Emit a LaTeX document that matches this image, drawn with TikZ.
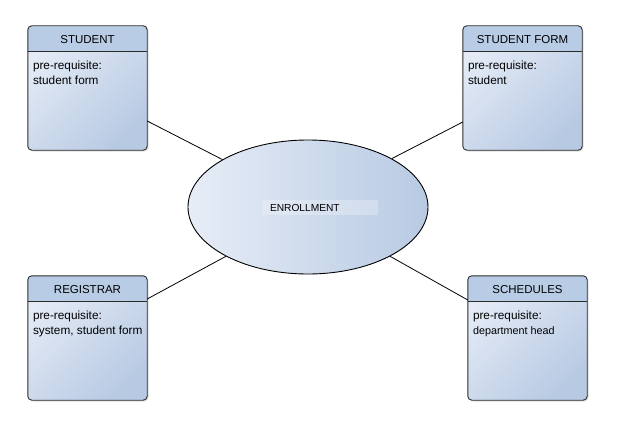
\documentclass[tikz,border=0pt]{standalone}
\usepackage{fontspec}
\setmainfont{Liberation Sans}
\usetikzlibrary{shapes.geometric,shadows}

\definecolor{boxlight}{HTML}{E4EBF6}
\definecolor{boxdark}{HTML}{B8CAE3}
\definecolor{hdrblue}{HTML}{B9CCE5}
\definecolor{edgegray}{HTML}{2B2B2B}

\tikzset{
  entity/.style={rectangle, rounded corners=4pt, minimum width=119pt, minimum height=124pt,
    inner sep=0pt, top color=boxlight, bottom color=boxdark, shading angle=45,
    drop shadow={shadow xshift=1.5pt, shadow yshift=-1.5pt, opacity=0.25}},
  entline/.style={draw=edgegray, line width=0.9pt},
  title/.style={font=\fontsize{11.5}{13}\selectfont, inner sep=0pt},
  body/.style={font=\fontsize{11.8}{15}\selectfont, align=left, inner sep=0pt},
  link/.style={draw=black, line width=0.8pt}
}

% box with a title bar and a note below it
\newcommand{\entitybox}[4]{%
  \node[entity] (#1) at (#2) {};
  \begin{scope}
    \clip[rounded corners=4pt] (#1.north west) rectangle (#1.south east);
    \fill[hdrblue] (#1.north west) rectangle ([yshift=-26pt]#1.north east);
  \end{scope}
  \node[title] (#1-t) at ([yshift=-14pt]#1.north) {#3};
  \draw[entline] ([yshift=-26pt]#1.north west) -- ([yshift=-26pt]#1.north east);
  \node[body, anchor=north west] (#1-b) at ([xshift=5pt,yshift=-35pt]#1.north west) {#4};
  \draw[entline, rounded corners=4pt] (#1.north west) rectangle (#1.south east);
}

\begin{document}
\begin{tikzpicture}[x=1pt,y=-1pt]
  \useasboundingbox (0,0) rectangle (624,428);

  \node[ellipse, draw=black, line width=0.9pt, minimum width=240pt, minimum height=134pt,
        left color=boxlight!90!white, right color=boxdark] (enroll) at (308,207) {};
  \node[font=\fontsize{10.2}{12}\selectfont, fill=white, fill opacity=0.25, text opacity=1,
        text width=100pt, inner xsep=8pt, minimum height=15pt, align=left] (enroll-l) at (320,207.5) {ENROLLMENT};

  \entitybox{student}{87.5,88}{STUDENT}{pre-requisite:\\student form}
  \entitybox{form}{522.5,88}{STUDENT FORM}{pre-requisite:\\student}
  \entitybox{registrar}{87.5,338}{REGISTRAR}{pre-requisite:\\system, student form}
  \entitybox{schedules}{527.5,338}{SCHEDULES}{pre-requisite:\\{\fontsize{10.8}{15}\selectfont department head}}

  \draw[link] ([yshift=-33pt]student.east) -- (enroll.151);
  \draw[link] ([yshift=-34pt]form.west) -- (enroll.30);
  \draw[link] ([yshift=39pt]registrar.east) -- (enroll.211);
  \draw[link] ([yshift=38pt]schedules.west) -- (enroll.329);
\end{tikzpicture}
\end{document}
